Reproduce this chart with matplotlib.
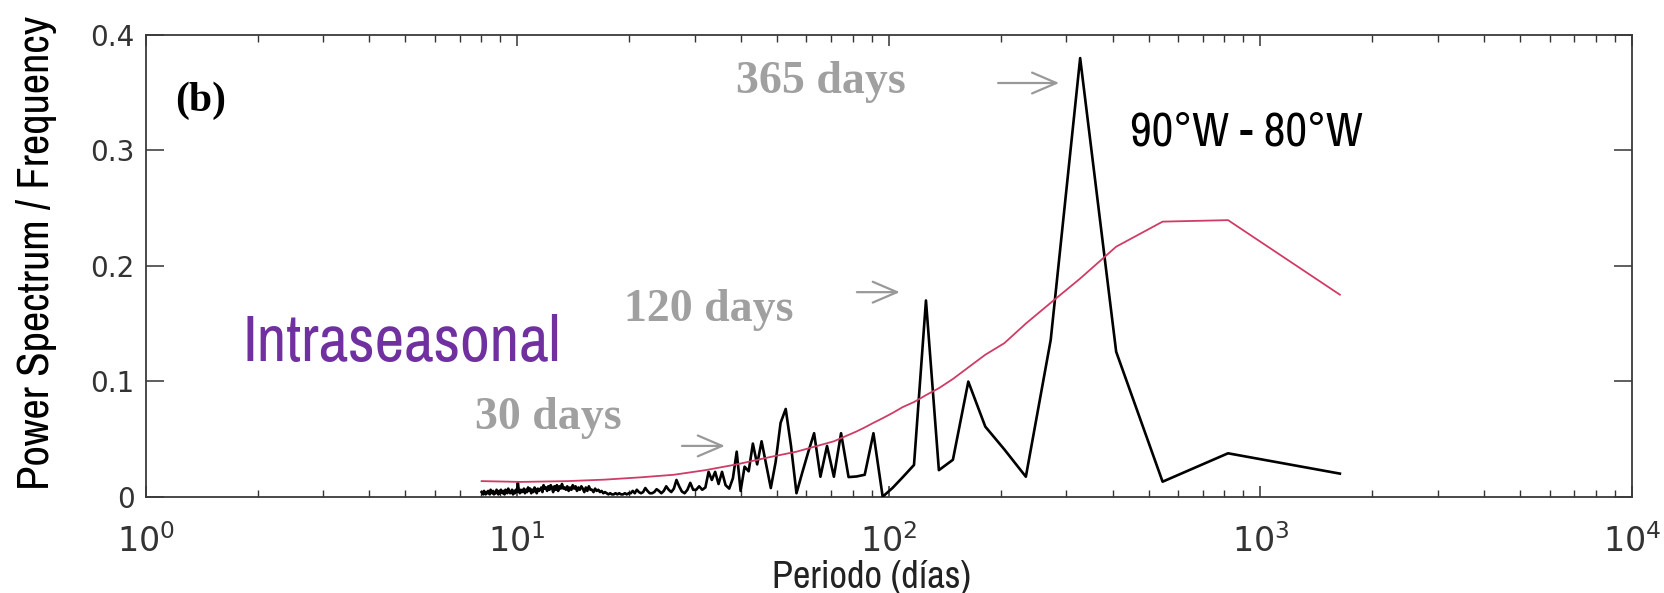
import os
import numpy as np
import matplotlib.pyplot as plt
from matplotlib import ticker
from matplotlib import font_manager

# record length in days, periods are N_DAYS / k
N_DAYS = 1636
harmonic = np.arange(1, 205)

# black: periodogram, one value per harmonic k = 1..204
black_power = [
    0.020, 0.0376, 0.013, 0.1256, 0.380, 0.136, 0.0173, 0.041, 0.0607, 0.0997,
    0.032, 0.023, 0.170, 0.0275, 0.017, 0.0075, 0.0, 0.055, 0.019, 0.0175,
    0.017, 0.055, 0.0173, 0.044, 0.0173, 0.055, 0.038, 0.0205, 0.003, 0.044,
    0.076, 0.064, 0.030, 0.0075, 0.028, 0.048, 0.028, 0.046, 0.022, 0.026,
    0.005, 0.039, 0.016, 0.007, 0.010, 0.0215, 0.011, 0.0215, 0.0145, 0.0215,
    0.008, 0.006, 0.009, 0.006, 0.006, 0.012, 0.006, 0.003, 0.0045, 0.009,
    0.0145, 0.007, 0.004, 0.006, 0.009, 0.005, 0.003, 0.005, 0.0065, 0.004,
    0.003, 0.003, 0.005, 0.0075, 0.004, 0.003, 0.004, 0.006, 0.003, 0.005,
    0.003, 0.003, 0.002, 0.003, 0.002, 0.002, 0.003, 0.002, 0.003, 0.002,
    0.002, 0.003, 0.002, 0.003, 0.004, 0.003, 0.005, 0.004, 0.006, 0.005,
    0.007, 0.004, 0.006, 0.006, 0.009, 0.005, 0.008, 0.004, 0.007, 0.009,
    0.006, 0.008, 0.005, 0.009, 0.007, 0.010, 0.006, 0.008, 0.005, 0.009,
    0.006, 0.008, 0.007, 0.011, 0.007, 0.009, 0.005, 0.010, 0.006, 0.009,
    0.004, 0.008, 0.010, 0.006, 0.009, 0.005, 0.008, 0.007, 0.010, 0.004,
    0.008, 0.006, 0.005, 0.007, 0.003, 0.006, 0.008, 0.004, 0.006, 0.003,
    0.007, 0.005, 0.008, 0.004, 0.006, 0.003, 0.007, 0.005, 0.004, 0.006,
    0.003, 0.005, 0.012, 0.004, 0.006, 0.003, 0.005, 0.002, 0.006, 0.004,
    0.003, 0.005, 0.007, 0.003, 0.004, 0.006, 0.002, 0.005, 0.003, 0.004,
    0.006, 0.003, 0.005, 0.002, 0.004, 0.006, 0.003, 0.004, 0.002, 0.005,
    0.003, 0.004, 0.006, 0.002, 0.003, 0.005, 0.003, 0.004, 0.002, 0.003,
    0.005, 0.002, 0.003, 0.004,
]

# red: red-noise background, read at a subset of harmonics
red_k = [1, 2, 3, 4, 5, 6, 7, 8, 9, 10, 11, 12, 13, 14, 15, 16, 17, 18, 19, 20,
         23, 29, 34, 42, 51, 62, 76, 95, 120, 160, 204]
red_power = [0.175, 0.2396, 0.2383, 0.2166, 0.189, 0.168, 0.150, 0.133, 0.123, 0.112,
             0.102, 0.094, 0.088, 0.082, 0.0777, 0.0725, 0.068, 0.064, 0.060, 0.0565,
             0.048, 0.039, 0.0345, 0.028, 0.023, 0.019, 0.0168, 0.0148, 0.0135, 0.0128, 0.0135]

y_ticks = [0, 0.1, 0.2, 0.3, 0.4]


def condensed_font():
    # look for any installed condensed / narrow sans face
    best = None
    for f in font_manager.fontManager.ttflist:
        base = os.path.basename(f.fname)
        is_cond = ('Narrow' in f.name or 'Condensed' in f.name or 'Condensed' in base
                   or str(f.stretch) in ('condensed', 'semi-condensed', 'extra-condensed'))
        if not is_cond or f.style != 'normal' or f.weight not in (400, 'normal', 'regular'):
            continue
        if 'Serif' in f.name or 'Mono' in f.name:
            continue
        if '-Condensed.' in base or 'Narrow' in f.name:
            score = 3
        elif 'SemiCondensed' in base:
            score = 2
        else:
            score = 1
        if best is None or score > best[0]:
            best = (score, f.fname)
    if best:
        return dict(fontproperties=font_manager.FontProperties(fname=best[1]))
    return dict(family=['Liberation Sans', 'DejaVu Sans'])


cond = condensed_font()
serif = ['Liberation Serif', 'DejaVu Serif']

fig = plt.figure(figsize=(16.65, 5.93), dpi=100)
ax = fig.add_axes([0.0875, 0.1624, 0.8927, 0.7786])

periods = N_DAYS / harmonic
ax.plot(periods, black_power, color='black', lw=1.9, zorder=3)
ax.plot(N_DAYS / np.array(red_k), red_power, color='#cf3c66', lw=1.3, zorder=4)

ax.set_xscale('log')
ax.set_xlim(1, 1e4)
ax.set_ylim(0, 0.4)
ax.set_yticks(y_ticks)
ax.yaxis.set_major_formatter(ticker.FuncFormatter(lambda v, p: '0' if v == 0 else f'{v:g}'))
ax.xaxis.set_major_locator(ticker.LogLocator(base=10, numticks=10))
ax.xaxis.set_minor_locator(ticker.LogLocator(base=10, subs=np.arange(2, 10), numticks=20))
ax.xaxis.set_minor_formatter(ticker.NullFormatter())

ax.tick_params(which='both', direction='in', top=True, right=True, color='#333333')
ax.tick_params(axis='y', length=13, width=1.1, labelsize=20, pad=8, labelcolor='#333333')
ax.tick_params(axis='x', which='major', length=8, width=1.1, labelsize=24, pad=20, labelcolor='#333333')
ax.tick_params(axis='x', which='minor', length=5, width=1.0)
for s in ax.spines.values():
    s.set_color('#3a3a3a')
    s.set_linewidth(1.3)

ylab = fig.text(0.0222, 0.573, 'Power Spectrum / Frequency', rotation=90, ha='center', va='center',
                fontsize=30, **cond)
xlab = fig.text(0.5237, 0.026, 'Periodo (días)', ha='center', va='center', fontsize=27,
                color='#222222', **cond)

ax.text(0.0197, 0.857, '(b)', transform=ax.transAxes, ha='left', va='center',
        fontsize=30, fontweight='bold', family=serif)
gray = '#a0a0a0'
ax.text(0.397, 0.874, '365 days', transform=ax.transAxes, ha='left', va='baseline',
        fontsize=33, fontweight='bold', family=serif, color=gray)
ax.text(0.322, 0.380, '120 days', transform=ax.transAxes, ha='left', va='baseline',
        fontsize=33, fontweight='bold', family=serif, color=gray)
ax.text(0.2215, 0.1466, '30 days', transform=ax.transAxes, ha='left', va='baseline',
        fontsize=33, fontweight='bold', family=serif, color=gray)

for x0, x1, yy in [(0.5735, 0.6146, 0.896), (0.4785, 0.5074, 0.443), (0.3608, 0.3897, 0.110)]:
    ax.annotate('', xy=(x1, yy), xytext=(x0, yy), xycoords='axes fraction',
                arrowprops=dict(arrowstyle='->,head_length=0.7,head_width=0.3',
                                color='#999999', lw=1.6, mutation_scale=25,
                                shrinkA=0, shrinkB=0))

region = ax.text(0.662, 0.7607, '90°W - 80°W', transform=ax.transAxes, ha='left', va='baseline',
                 fontsize=35, color='black', **cond)
intra = ax.text(0.0648, 0.294, 'Intraseasonal', transform=ax.transAxes, ha='left', va='baseline',
                fontsize=47, color='#7030a0', **cond)

# fit the condensed texts to the widths seen in the reference (pixels)
renderer = fig.canvas.get_renderer()
for t, target, vertical in [(ylab, 474, True), (xlab, 199, False), (region, 233, False), (intra, 319, False)]:
    for _ in range(2):
        bb = t.get_window_extent(renderer)
        size = bb.height if vertical else bb.width
        t.set_fontsize(t.get_fontsize() * target / size)

fig.savefig('out.png', dpi=100)
